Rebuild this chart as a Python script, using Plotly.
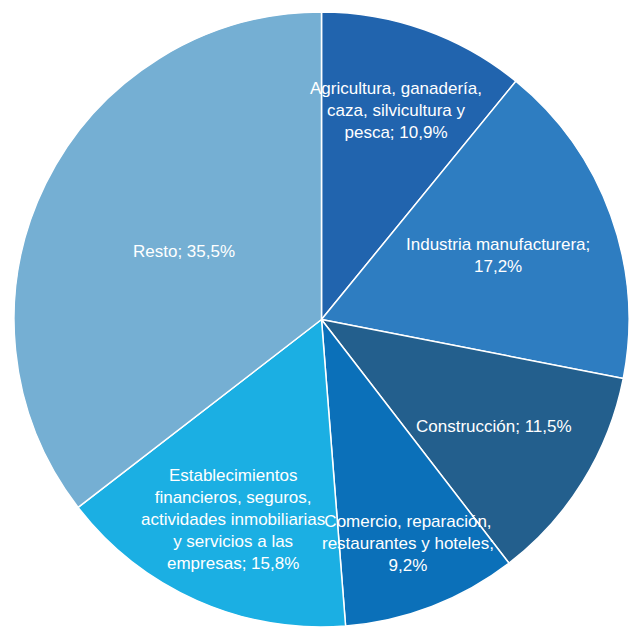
import numpy as np
import plotly.graph_objects as go

sectores = ['Agricultura, ganadería, caza, silvicultura y pesca',
            'Industria manufacturera',
            'Construcción',
            'Comercio, reparación, restaurantes y hoteles',
            'Establecimientos financieros, seguros, actividades inmobiliarias y servicios a las empresas',
            'Resto']
valores = [10.9, 17.2, 11.5, 9.2, 15.8, 35.5]
etiquetas = ['Agricultura, ganadería,<br>caza, silvicultura y<br>pesca; 10,9%',
             'Industria manufacturera;<br>17,2%',
             'Construcción; 11,5%',
             'Comercio, reparación,<br>restaurantes y hoteles;<br>9,2%',
             'Establecimientos<br>financieros, seguros,<br>actividades inmobiliarias<br>y servicios a las<br>empresas; 15,8%',
             'Resto; 35,5%']

colores = ['#2164AE', '#2E7DC1', '#235F8D', '#0B70B9', '#1BAFE3', '#75AFD3']
# how far out (fraction of radius) each label sits
label_r = [0.72, 0.61, 0.66, 0.78, 0.71, 0.50]

W, H = 631, 627
ml, mt = 14, 12
side = 615
mr, mb = W - ml - side, H - mt - side
pw, ph = side, side
R = side / 2

fig = go.Figure(go.Pie(
    labels=sectores, values=valores, sort=False, direction='clockwise',
    rotation=0, textinfo='none', hole=0,
    marker=dict(colors=colores, line=dict(color='white', width=1.5)),
    showlegend=False,
))

# label positions from the slice mid angles
tot = sum(valores)
cum = np.cumsum([0] + valores[:-1])
for v, c, txt, fr in zip(valores, cum, etiquetas, label_r):
    ang = 2 * np.pi * (c + v / 2) / tot
    x = 0.5 + fr * R * np.sin(ang) / pw
    y = 0.5 + fr * R * np.cos(ang) / ph
    fig.add_annotation(x=x, y=y, xref='paper', yref='paper', text=txt,
                       xanchor='center', yanchor='middle',
                       showarrow=False, align='center',
                       font=dict(color='white', size=17, family='Liberation Sans, Arial'))

fig.update_layout(width=W, height=H, margin=dict(l=ml, r=mr, t=mt, b=mb),
                  paper_bgcolor='white', plot_bgcolor='white')
fig.write_html('out.html', config={'displayModeBar': False},
               post_script="document.body.style.margin='0';document.body.style.overflow='hidden';")
